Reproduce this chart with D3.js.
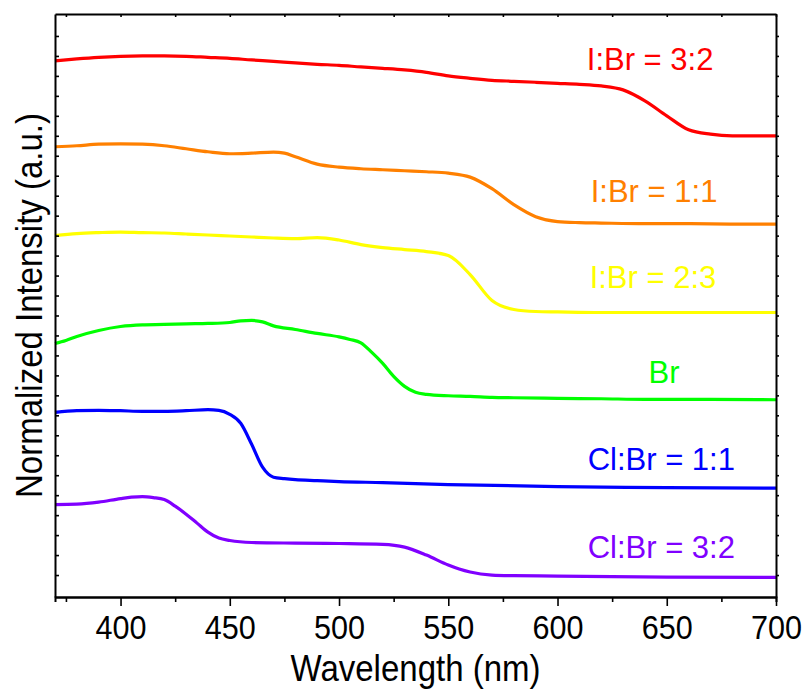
<!DOCTYPE html>
<html>
  <head>
    <meta charset="utf-8">
    <script src="https://d3js.org/d3.v7.min.js"></script>
    <style>
      body { margin: 0; background: #fff; }
      text { font-family: "Liberation Sans", Arial, sans-serif; }
    </style>
  </head>
  <body>
    <svg width="807" height="690"></svg>
    <script>

      // wavelength grid (nm) per series, and offset intensities (a.u.)
      var redX = [370,380,390,400,410,420,430,440,450,460,470,480,490,500,510,520,530,540,550,560,570,580,590,600,610,620,630,640,650,660,670,680,690,700];
      var redY = [26.75,26.85,26.93,26.98,27.0,27.0,26.98,26.93,26.88,26.8,26.73,26.65,26.58,26.53,26.45,26.38,26.3,26.18,26.0,25.88,25.78,25.73,25.68,25.63,25.58,25.5,25.3,24.75,24.0,23.3,23.08,23.0,23.0,23.0];

      var orangeX = [370,380,390,400,410,420,430,440,450,460,470,475,480,490,500,510,520,530,540,550,560,570,580,590,600,610,620,640,660,680,700];
      var orangeY = [22.45,22.5,22.58,22.6,22.58,22.5,22.35,22.2,22.1,22.13,22.18,22.13,21.95,21.58,21.43,21.35,21.3,21.25,21.2,21.13,20.93,20.35,19.55,18.95,18.7,18.65,18.63,18.6,18.6,18.58,18.58];

      var yellowX = [370,380,390,400,410,420,430,440,450,460,470,480,490,500,510,520,530,540,550,560,570,580,590,600,620,640,660,680,700];
      var yellowY = [18.0,18.1,18.15,18.18,18.15,18.13,18.08,18.03,17.98,17.93,17.88,17.85,17.9,17.78,17.55,17.4,17.3,17.2,17.0,16.05,14.75,14.3,14.2,14.18,14.15,14.15,14.15,14.15,14.15];

      var greenX = [370,375,380,390,400,410,420,430,440,450,455,460,465,470,480,490,500,505,510,515,520,525,530,535,540,550,560,570,580,600,620,640,670,700];
      var greenY = [12.6,12.75,12.95,13.25,13.45,13.53,13.55,13.58,13.6,13.65,13.73,13.75,13.68,13.48,13.3,13.1,12.93,12.8,12.63,12.15,11.6,10.95,10.45,10.15,10.05,9.98,9.95,9.9,9.88,9.85,9.83,9.8,9.8,9.78];

      var blueX = [370,380,390,400,410,420,430,440,445,450,455,460,465,470,475,480,490,500,520,550,600,650,700];
      var blueY = [9.15,9.23,9.25,9.23,9.2,9.2,9.23,9.28,9.25,9.05,8.6,7.55,6.4,5.9,5.83,5.78,5.73,5.68,5.63,5.53,5.43,5.38,5.35];

      var purpleX = [370,380,390,400,405,410,415,420,425,430,435,440,445,450,460,480,500,520,530,540,550,555,560,570,580,600,650,700];
      var purpleY = [4.53,4.55,4.65,4.83,4.9,4.93,4.88,4.78,4.45,4.05,3.6,3.15,2.85,2.73,2.63,2.6,2.58,2.54,2.4,2.0,1.5,1.3,1.15,1.0,0.97,0.95,0.9,0.88];

      var seriesNames = ["I:Br = 3:2", "I:Br = 1:1", "I:Br = 2:3", "Br", "Cl:Br = 1:1", "Cl:Br = 3:2"];
      var seriesColors = ["#ff0000", "#ff8000", "#ffff00", "#00ff00", "#0000ff", "#8000ff"];
      // label anchor (wavelength, intensity) for each series name
      var labelX = [613.4, 615.2, 614.7, 641.7, 613.8, 613.8];
      var labelY = [26.3, 19.7, 15.4, 10.6, 6.25, 1.85];

      var majorTicks = [400, 450, 500, 550, 600, 650, 700];
      var minorTicks = [375, 425, 475, 525, 575, 625, 675];
      var yTicks = d3.range(1, 29);

      var svg = d3.select("svg"),
          margin = {top: 14, right: 31, bottom: 93, left: 55},
          width = +svg.attr("width") - margin.left - margin.right,
          height = +svg.attr("height") - margin.top - margin.bottom;

      var g = svg.append("g").attr("transform", "translate(" + margin.left + "," + margin.top + ")");

      var x = d3.scaleLinear().domain([370, 700]).range([0, width]);
      var y = d3.scaleLinear().domain([-0.1, 29.1]).range([height, 0]);

      var xs = [redX, orangeX, yellowX, greenX, blueX, purpleX];
      var ys = [redY, orangeY, yellowY, greenY, blueY, purpleY];
      var series = seriesNames.map(function(name, i) {
        return {
          name: name,
          color: seriesColors[i],
          values: xs[i].map(function(w, j) { return [w, ys[i][j]]; }),
          lx: labelX[i], ly: labelY[i]
        };
      });

      var line = d3.line()
          .x(function(d) { return x(d[0]); })
          .y(function(d) { return y(d[1]); })
          .curve(d3.curveMonotoneX);

      g.selectAll(".spectrum")
          .data(series)
        .enter().append("path")
          .attr("class", "spectrum")
          .attr("d", function(d) { return line(d.values); })
          .attr("fill", "none")
          .attr("stroke", function(d) { return d.color; })
          .attr("stroke-width", 3.2)
          .attr("stroke-linejoin", "round");

      g.selectAll(".label")
          .data(series)
        .enter().append("text")
          .attr("class", "label")
          .attr("x", function(d) { return x(d.lx); })
          .attr("y", function(d) { return y(d.ly); })
          .attr("fill", function(d) { return d.color; })
          .style("font-size", "31px")
          .text(function(d) { return d.name; });

      // axes
      function styleAxis(sel) {
        sel.select(".domain").attr("stroke", "#000").attr("stroke-width", 2);
        sel.selectAll(".tick line").attr("stroke", "#000").attr("stroke-width", 1.6);
      }

      g.append("g")
          .attr("transform", "translate(0," + height + ")")
          .call(d3.axisBottom(x).tickValues(minorTicks).tickSize(5).tickFormat(""))
          .call(styleAxis);

      var xAxis = g.append("g")
          .attr("transform", "translate(0," + height + ")")
          .call(d3.axisBottom(x).tickValues(majorTicks).tickSizeInner(9).tickSizeOuter(0).tickPadding(6).tickFormat(d3.format("d")))
          .call(styleAxis);
      // the original tick labels are a little taller than plain Arial
      xAxis.selectAll(".tick text")
          .attr("fill", "#000")
          .attr("y", 42)
          .attr("dy", null)
          .attr("textLength", 51)
          .attr("lengthAdjust", "spacingAndGlyphs")
          .style("font-size", "34px")
          .style("font-family", "'Liberation Sans', Arial, sans-serif");

      g.append("g")
          .call(d3.axisTop(x).tickValues(minorTicks.concat(majorTicks)).tickSizeInner(-3).tickSizeOuter(0).tickFormat(""))
          .call(styleAxis);

      g.append("g")
          .call(d3.axisLeft(y).tickValues(yTicks).tickSizeInner(-4).tickSizeOuter(0).tickFormat(""))
          .call(styleAxis);

      g.append("g")
          .attr("transform", "translate(" + width + ",0)")
          .call(d3.axisRight(y).tickValues(yTicks).tickSizeInner(3).tickSizeOuter(0).tickFormat(""))
          .call(styleAxis);

      svg.append("text")
          .attr("x", margin.left + width / 2)
          .attr("y", 681)
          .attr("text-anchor", "middle")
          .attr("textLength", 250)
          .attr("lengthAdjust", "spacingAndGlyphs")
          .style("font-size", "36px")
          .text("Wavelength (nm)");

      svg.append("text")
          .attr("transform", "translate(42," + (margin.top + height / 2) + ") rotate(-90)")
          .attr("text-anchor", "middle")
          .attr("textLength", 385)
          .attr("lengthAdjust", "spacingAndGlyphs")
          .style("font-size", "36px")
          .text("Normalized Intensity (a.u.)");

    </script>
  </body>
</html>
